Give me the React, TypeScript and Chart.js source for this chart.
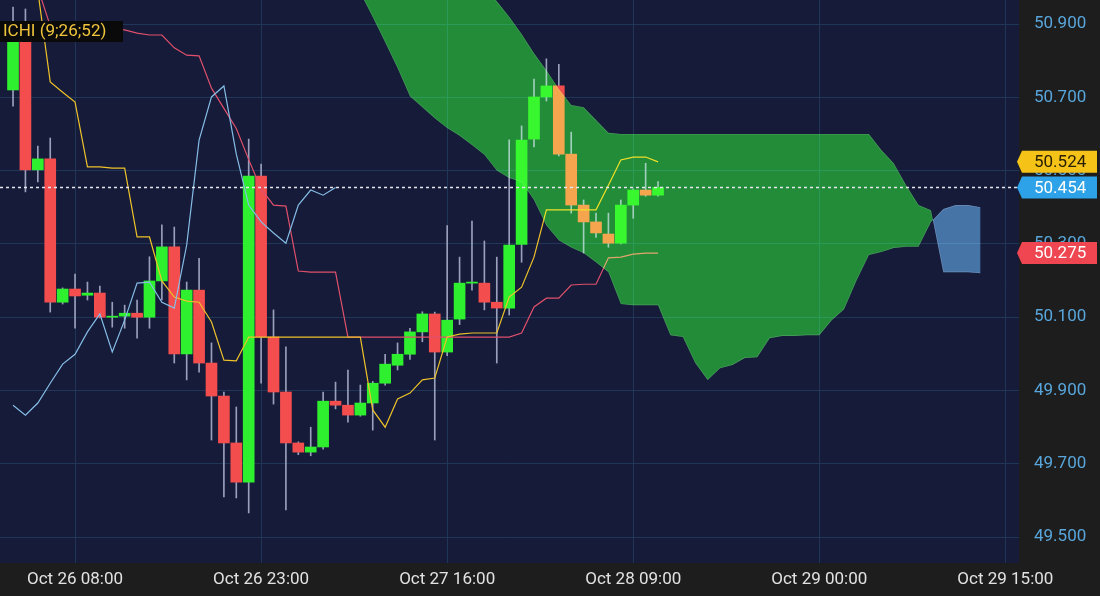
import React, { useEffect, useRef } from 'react';
import { Chart, registerables } from 'chart.js';

Chart.register(...registerables);

// ---------- data ----------
const opens = [50.720, 50.854, 50.502, 50.532, 50.141, 50.177, 50.160, 50.166, 50.100, 50.103, 50.111, 50.100, 50.199, 50.292, 50.000, 50.174, 49.975, 49.885, 49.757, 49.650, 50.485, 50.046, 49.896, 49.757, 49.732, 49.746, 49.871, 49.860, 49.833, 49.866, 49.920, 49.969, 49.999, 50.060, 50.109, 50.005, 50.095, 50.193, 50.193, 50.141, 50.125, 50.299, 50.586, 50.701, 50.731, 50.545, 50.406, 50.360, 50.327, 50.302, 50.406, 50.447, 50.433];
const highs = [50.946, 50.941, 50.567, 50.589, 50.180, 50.218, 50.196, 50.185, 50.141, 50.133, 50.147, 50.265, 50.352, 50.346, 50.196, 50.261, 50.030, 49.896, 49.855, 50.586, 50.518, 50.120, 50.019, 49.760, 49.800, 49.896, 49.923, 49.956, 49.915, 49.925, 49.999, 50.030, 50.070, 50.115, 50.114, 50.350, 50.264, 50.362, 50.308, 50.264, 50.584, 50.622, 50.750, 50.805, 50.790, 50.605, 50.420, 50.384, 50.384, 50.420, 50.450, 50.520, 50.470];
const lows = [50.676, 50.442, 50.469, 50.114, 50.136, 50.070, 50.147, 50.098, 50.073, 50.070, 50.043, 50.070, 50.147, 49.975, 49.929, 49.950, 49.765, 49.610, 49.607, 49.566, 49.920, 49.863, 49.574, 49.725, 49.722, 49.740, 49.850, 49.814, 49.830, 49.792, 49.915, 49.956, 49.985, 50.033, 49.765, 49.995, 50.080, 50.174, 50.120, 49.975, 50.106, 50.250, 50.565, 50.690, 50.540, 50.384, 50.275, 50.318, 50.291, 50.300, 50.370, 50.430, 50.430];
const closes = [50.854, 50.502, 50.532, 50.141, 50.177, 50.158, 50.166, 50.100, 50.103, 50.111, 50.100, 50.199, 50.292, 50.000, 50.174, 49.975, 49.885, 49.757, 49.650, 50.485, 50.046, 49.896, 49.757, 49.732, 49.746, 49.871, 49.860, 49.833, 49.866, 49.920, 49.972, 49.999, 50.060, 50.109, 50.005, 50.092, 50.193, 50.196, 50.141, 50.125, 50.297, 50.583, 50.701, 50.731, 50.545, 50.406, 50.360, 50.330, 50.302, 50.406, 50.447, 50.433, 50.454];

const tenkan = [51.12, 51.06, 50.99, 50.742, 50.714, 50.687, 50.510, 50.510, 50.507, 50.507, 50.319, 50.319, 50.199, 50.155, 50.144, 50.141, 50.087, 49.983, 49.981, 50.046, 50.046, 50.046, 50.046, 50.046, 50.046, 50.046, 50.046, 50.046, 50.046, 49.847, 49.800, 49.877, 49.893, 49.929, 49.934, 50.046, 50.054, 50.057, 50.057, 50.057, 50.155, 50.182, 50.264, 50.393, 50.393, 50.393, 50.393, 50.393, 50.460, 50.529, 50.537, 50.537, 50.524];
const kijun = [51.20, 51.10, 50.998, 50.895, 50.886, 50.886, 50.886, 50.886, 50.886, 50.884, 50.875, 50.870, 50.870, 50.835, 50.815, 50.813, 50.725, 50.670, 50.615, 50.530, 50.450, 50.406, 50.403, 50.226, 50.223, 50.223, 50.223, 50.046, 50.046, 50.046, 50.046, 50.046, 50.046, 50.046, 50.046, 50.046, 50.046, 50.046, 50.046, 50.046, 50.046, 50.057, 50.128, 50.152, 50.152, 50.188, 50.190, 50.190, 50.262, 50.264, 50.272, 50.275, 50.275];
const chikou = [49.860, 49.833, 49.866, 49.920, 49.972, 49.999, 50.060, 50.109, 50.005, 50.092, 50.193, 50.196, 50.141, 50.125, 50.297, 50.583, 50.701, 50.731, 50.545, 50.406, 50.360, 50.330, 50.302, 50.406, 50.447, 50.433, 50.454];

const cloudStart = 26;
const spanA = [51.10, 51.03, 50.985, 50.919, 50.85, 50.78, 50.703, 50.673, 50.643, 50.616, 50.595, 50.57, 50.543, 50.50, 50.48, 50.469, 50.42, 50.35, 50.31, 50.29, 50.275, 50.25, 50.223, 50.136, 50.133, 50.133, 50.133, 50.051, 50.046, 49.975, 49.929, 49.961, 49.97, 49.989, 49.991, 50.043, 50.049, 50.049, 50.051, 50.051, 50.092, 50.122, 50.2, 50.27, 50.278, 50.289, 50.292, 50.292, 50.36, 50.395, 50.406, 50.406, 50.40];
const spanB = [51.45, 51.42, 51.38, 51.34, 51.30, 51.26, 51.22, 51.18, 51.14, 51.10, 51.06, 51.03, 51.00, 50.962, 50.92, 50.873, 50.82, 50.774, 50.723, 50.679, 50.673, 50.638, 50.603, 50.6, 50.6, 50.6, 50.6, 50.6, 50.6, 50.6, 50.6, 50.6, 50.6, 50.6, 50.6, 50.6, 50.6, 50.6, 50.6, 50.6, 50.6, 50.6, 50.6, 50.6, 50.556, 50.52, 50.46, 50.406, 50.392, 50.223, 50.223, 50.223, 50.22];

const xTickPos = [5, 20, 35, 50, 65, 80];
const xTickLabels = ['Oct 26 08:00', 'Oct 26 23:00', 'Oct 27 16:00', 'Oct 28 09:00', 'Oct 29 00:00', 'Oct 29 15:00'];
const yTicks = [49.5, 49.7, 49.9, 50.1, 50.3, 50.5, 50.7, 50.9];
const legendText = 'ICHI (9;26;52)';

// ---------- styles ----------
const FONT = 'Roboto';
const GREEN = '#2ef02e';
const RED = '#f44d4d';
const WICK = '#9aa0bb';
const TENKAN_C = '#eec22a';
const KIJUN_C = '#e0506c';
const CHIKOU_C = '#86bde6';
const PLOT_BG = '#151b39';
const AXIS_BG = '#1d1d1d';
const GRID = '#1f3658';

const pts = (arr: number[], start = 0) => arr.map((v, i) => ({ x: i + start, y: v }));

const bgPlugin = {
  id: 'bgPlugin',
  beforeDraw(chart: any) {
    const { ctx, chartArea: ca, width, height } = chart;
    ctx.save();
    ctx.fillStyle = AXIS_BG;
    ctx.fillRect(0, 0, width, height);
    ctx.fillStyle = PLOT_BG;
    ctx.fillRect(ca.left, ca.top, ca.right - ca.left, ca.bottom - ca.top);
    ctx.restore();
  },
};

function tracePath(ctx: CanvasRenderingContext2D, xs: any, ys: any, arr: number[]) {
  arr.forEach((v, i) => {
    const px = xs.getPixelForValue(i + cloudStart);
    const py = ys.getPixelForValue(v);
    if (i === 0) ctx.moveTo(px, py);
    else ctx.lineTo(px, py);
  });
}

function drawRegion(chart: any, upper: number[], lower: number[], fill: string, edge: string) {
  const { ctx, chartArea: ca, scales } = chart;
  const xs = scales.x;
  const ys = scales.y;
  const x0 = xs.getPixelForValue(cloudStart);
  const x1 = xs.getPixelForValue(cloudStart + upper.length - 1);
  ctx.save();
  ctx.beginPath();
  tracePath(ctx, xs, ys, upper);
  ctx.lineTo(x1, 10000);
  ctx.lineTo(x0, 10000);
  ctx.closePath();
  ctx.clip();
  ctx.beginPath();
  tracePath(ctx, xs, ys, lower);
  ctx.lineTo(x1, -10000);
  ctx.lineTo(x0, -10000);
  ctx.closePath();
  ctx.clip();
  ctx.fillStyle = fill;
  ctx.fillRect(ca.left, ca.top, ca.right - ca.left, ca.bottom - ca.top);
  ctx.strokeStyle = edge;
  ctx.lineWidth = 1.2;
  ctx.beginPath();
  tracePath(ctx, xs, ys, upper);
  ctx.stroke();
  ctx.beginPath();
  tracePath(ctx, xs, ys, lower);
  ctx.stroke();
  ctx.restore();
}

const overlayPlugin = {
  id: 'overlayPlugin',
  afterDatasetsDraw(chart: any) {
    const { ctx, chartArea: ca, scales } = chart;
    ctx.save();
    ctx.beginPath();
    ctx.rect(ca.left, ca.top, ca.right - ca.left, ca.bottom - ca.top);
    ctx.clip();
    ctx.globalCompositeOperation = 'screen';
    drawRegion(chart, spanB, spanA, 'rgb(14,126,0)', 'rgb(45,40,45)');
    drawRegion(chart, spanA, spanB, 'rgb(55,100,140)', 'rgb(50,50,60)');
    ctx.globalCompositeOperation = 'source-over';
    const py = Math.round(scales.y.getPixelForValue(closes[closes.length - 1])) + 0.5;
    ctx.strokeStyle = '#e6e8f0';
    ctx.lineWidth = 1.6;
    ctx.setLineDash([3, 3]);
    ctx.beginPath();
    ctx.moveTo(ca.left, py);
    ctx.lineTo(ca.right, py);
    ctx.stroke();
    ctx.restore();
  },
  afterDraw(chart: any) {
    const { ctx, chartArea: ca, scales, width } = chart;
    const badges = [
      { v: tenkan[tenkan.length - 1], bg: '#f5c318', fg: '#2a2000' },
      { v: closes[closes.length - 1], bg: '#2ea2e8', fg: '#ffffff' },
      { v: kijun[kijun.length - 1], bg: '#ef4651', fg: '#ffffff' },
    ];
    ctx.save();
    ctx.font = `17px ${FONT}`;
    ctx.textBaseline = 'middle';
    ctx.textAlign = 'left';
    badges.forEach((b) => {
      const yc = scales.y.getPixelForValue(b.v);
      const h = 22;
      const l = ca.right - 2;
      const r = width - 3;
      ctx.fillStyle = b.bg;
      ctx.beginPath();
      ctx.moveTo(l, yc);
      ctx.lineTo(l + 5, yc - h / 2);
      ctx.lineTo(r, yc - h / 2);
      ctx.lineTo(r, yc + h / 2);
      ctx.lineTo(l + 5, yc + h / 2);
      ctx.closePath();
      ctx.fill();
      ctx.fillStyle = b.fg;
      ctx.fillText(b.v.toFixed(3), ca.right + 15, yc + 1);
    });
    ctx.fillStyle = '#0a0a0a';
    ctx.fillRect(0, 21, 123, 21);
    ctx.fillStyle = '#f0c53c';
    ctx.fillText(legendText, 3, 32);
    ctx.restore();
  },
};

export default function App() {
  const ref = useRef<HTMLCanvasElement>(null);
  useEffect(() => {
    document.body.style.margin = '0';
    const canvas = ref.current!;
    const chart = new Chart(canvas, {
      type: 'bar',
      data: {
        datasets: [
          { type: 'line', data: pts(chikou), borderColor: CHIKOU_C, borderWidth: 1.2, pointRadius: 0, order: 1 },
          { type: 'line', data: pts(tenkan), borderColor: TENKAN_C, borderWidth: 1.2, pointRadius: 0, order: 2 },
          { type: 'line', data: pts(kijun), borderColor: KIJUN_C, borderWidth: 1.2, pointRadius: 0, order: 3 },
          {
            type: 'bar',
            data: opens.map((o, i) => ({ x: i, y: [o, closes[i]] })),
            backgroundColor: opens.map((o, i) => (closes[i] >= o ? GREEN : RED)),
            borderWidth: 0,
            barThickness: 11,
            grouped: false,
            order: 9,
          },
          {
            type: 'bar',
            data: lows.map((l, i) => ({ x: i, y: [l, highs[i]] })),
            backgroundColor: WICK,
            borderWidth: 0,
            barThickness: 1,
            grouped: false,
            order: 10,
          },
        ] as any,
      },
      options: {
        responsive: false,
        animation: false,
        devicePixelRatio: 1,
        events: [],
        layout: { padding: 0 },
        plugins: { legend: { display: false }, tooltip: { enabled: false }, title: { display: false } },
        scales: {
          x: {
            type: 'linear',
            position: 'bottom',
            min: -1.05,
            max: 81.1,
            offset: false,
            afterBuildTicks: (s: any) => {
              s.ticks = xTickPos.map((v) => ({ value: v }));
            },
            afterFit: (s: any) => {
              s.height = 33;
              s.paddingLeft = 0;
              s.paddingRight = 0;
            },
            ticks: {
              autoSkip: false,
              maxRotation: 0,
              minRotation: 0,
              padding: 7,
              color: '#e2e2e2',
              font: { family: FONT, size: 17 },
              callback: (_v: any, i: number) => xTickLabels[i],
            },
            grid: { color: GRID, drawTicks: false, lineWidth: 1, offset: false },
            border: { display: false },
          },
          y: {
            type: 'linear',
            position: 'right',
            min: 49.4295,
            max: 50.9655,
            afterBuildTicks: (s: any) => {
              s.ticks = yTicks.map((v) => ({ value: v }));
            },
            afterFit: (s: any) => {
              s.width = 81;
              s.paddingTop = 0;
              s.paddingBottom = 0;
            },
            ticks: {
              padding: 15,
              color: '#58a6dc',
              font: { family: FONT, size: 17 },
              callback: (v: any) => Number(v).toFixed(3),
            },
            grid: { color: GRID, drawTicks: false, lineWidth: 1 },
            border: { display: false },
          },
        },
      } as any,
      plugins: [bgPlugin, overlayPlugin],
    });
    return () => chart.destroy();
  }, []);
  return (
    <div style={{ position: 'absolute', left: 0, top: 0, width: 1100, height: 596 }}>
      <canvas ref={ref} width={1100} height={596} style={{ display: 'block', width: 1100, height: 596 }} />
    </div>
  );
}
